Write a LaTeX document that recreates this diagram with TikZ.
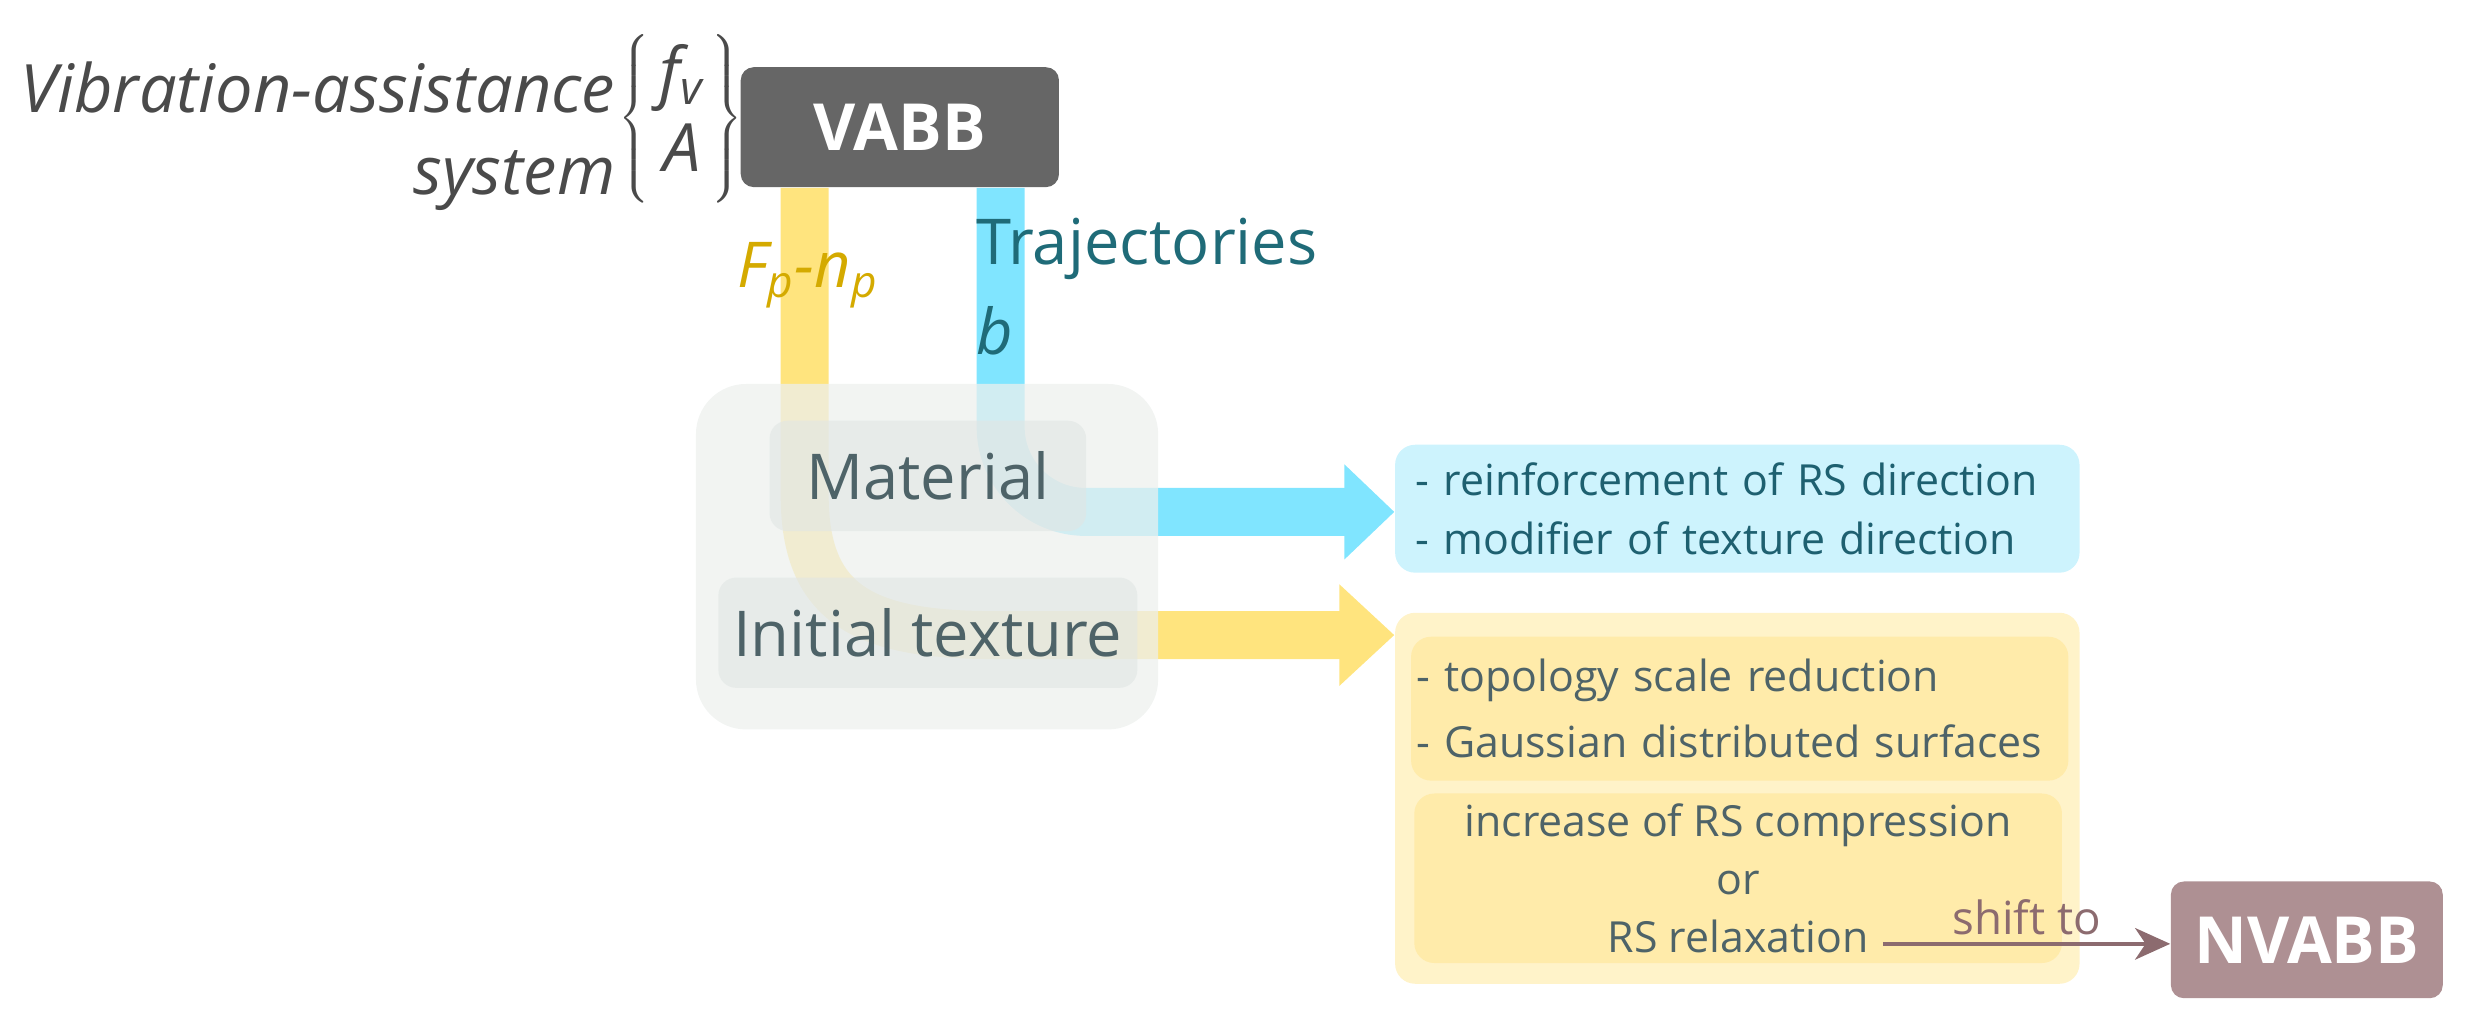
\documentclass[tikz,border=0pt]{standalone}
\usepackage{fontspec}
\setmainfont{Open Sans}
\usetikzlibrary{arrows.meta}
\definecolor{bandY}{HTML}{FFE47E}
\definecolor{bandB}{HTML}{80E5FF}
\definecolor{vabbC}{HTML}{666666}
\definecolor{nvabbC}{HTML}{AE9093}
\definecolor{shiftC}{HTML}{8C6B6F}
\definecolor{goldC}{HTML}{D4AA00}
\definecolor{tealC}{HTML}{1F6B78}
\definecolor{tealD}{HTML}{1E6070}
\definecolor{slateC}{HTML}{4E6368}
\definecolor{greyT}{HTML}{4A4A4A}
\definecolor{contC}{HTML}{EDF0EE}
\definecolor{innerC}{HTML}{E1E6E4}
\definecolor{bboxC}{HTML}{CDF3FD}
\definecolor{youtC}{HTML}{FFF3C9}
\definecolor{yinC}{HTML}{FFEBAA}
\begin{document}
\begin{tikzpicture}[x=0.016cm,y=-0.016cm,
  darkbox/.style={rounded corners=0.13cm, fill=#1, text=white, font=\fontsize{18.5}{22}\selectfont\bfseries, inner sep=0pt},
  band/.style={line width=0.48cm},
  greybox/.style={fill=innerC, fill opacity=0.6, text opacity=1, rounded corners=0.18cm, minimum width=#1, minimum height=1.104cm, inner sep=0pt, text=slateC, font=\fontsize{18}{22}\selectfont},
  boxtext/.style={font=\fontsize{12.2}{#1}\selectfont},
  lightbox/.style={fill=#1, rounded corners=0.2cm, inner sep=0pt}
]
\useasboundingbox (0,0) rectangle (1554,634);

% left label and parameters
\node[greyT, font=\fontsize{19}{23.5}\selectfont\itshape, align=right, anchor=east, inner sep=0pt] (vas) at (385,85) {Vibration-assistance\\system};
\node[greyT, anchor=west, inner sep=0pt] (params) at (386,74) {$\left\{\kern3pt\vcenter{\hbox{\rule{0pt}{50pt}}}\vcenter{\hbox{\fontsize{19}{21.5}\selectfont\itshape\begin{tabular}{@{}c@{}}f\textsubscript{v}\\A\end{tabular}}}\kern2pt\right\}$};

% main boxes
\node[darkbox=vabbC, minimum width=3.184cm, minimum height=1.2cm] (vabb) at (562.5,79.5) {VABB};
\node[lightbox=bboxC, minimum width=6.848cm, minimum height=1.28cm, text width=6.44cm, inner xsep=0.204cm, align=left, text=tealD, boxtext=16.8] (bbox) at (1086,318) {- reinforcement of RS direction\\- modifier of texture direction};
\node[lightbox=youtC, minimum width=6.848cm, minimum height=3.712cm] (ybox) at (1086,499) {};
\node[lightbox=yinC, minimum width=6.576cm, minimum height=1.44cm, text width=6.476cm, inner xsep=0.05cm, align=left, text=slateC, boxtext=18.7] (yin1) at (1087.5,443) {- topology scale reduction\\- Gaussian distributed surfaces};
\node[lightbox=yinC, minimum width=6.48cm, minimum height=1.696cm, align=center, text=slateC, boxtext=16.4] (yin2) at (1086.5,549) {increase of RS compression\\or\\RS relaxation};
\node[darkbox=nvabbC, minimum width=2.72cm, minimum height=1.168cm] (nvabb) at (1442,587.5) {NVABB};

% bands
\coordinate (yturn) at (503,397);
\coordinate (bturn) at (625.5,320);
\draw[band, bandY, -{Triangle[length=0.55cm, width=0.98cm]}] (vabb.south -| yturn) -- ([yshift=1.4cm]yturn) .. controls ([yshift=0.3cm]yturn) and ([xshift=0.6cm]yturn) .. ([xshift=1.9cm]yturn) -- (yturn -| ybox.west);
\draw[band, bandB, rounded corners=0.85cm, -{Triangle[length=0.5cm, width=0.92cm]}] (vabb.south -| bturn) -- (bturn) -- (bturn -| bbox.west);

% influence container
\node[fill=contC, fill opacity=0.75, rounded corners=0.5cm, minimum width=4.624cm, minimum height=3.456cm, inner sep=0pt] (cont) at (579.5,348) {};
\node[greybox=3.168cm] (mat) at (580,297.5) {Material};
\node[greybox=4.192cm] (tex) at (580,395.5) {Initial texture};

% band labels
\node[goldC, font=\fontsize{18}{22}\selectfont\itshape, anchor=base, inner sep=0pt] (fpnp) at (505,180) {F\textsubscript{p}-n\textsubscript{p}};
\node[tealC, font=\fontsize{18}{25.5}\selectfont, anchor=north west, align=left, inner sep=0pt] (traj) at (610,136) {Trajectories\\\textit{b}};

% shift arrow
\coordinate (relaxend) at (1177,590);
\draw[shiftC, line width=1.1pt, -{Stealth[length=10pt, width=9pt, inset=3pt]}] (relaxend) -- (relaxend -| nvabb.west) node[midway, above, inner sep=2pt, text=shiftC, font=\fontsize{13}{15}\selectfont] (shift) {shift to};
\end{tikzpicture}
\end{document}
